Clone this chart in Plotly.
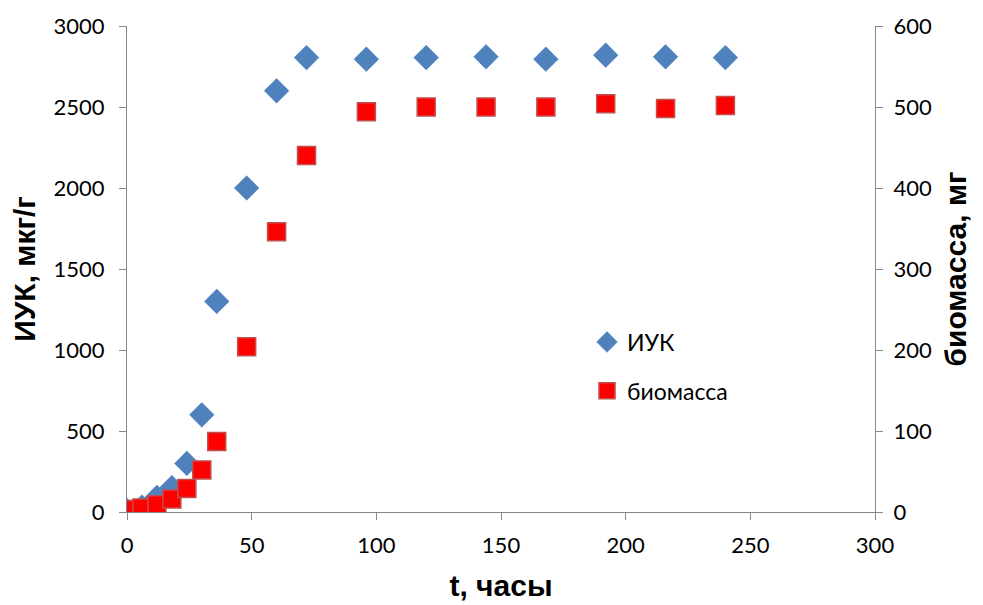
import plotly.graph_objects as go

t_iuk = [0, 6, 12, 18, 24, 30, 36, 48, 60, 72, 96, 120, 144, 168, 192, 216, 240]
iuk = [10, 30, 90, 150, 300, 600, 1300, 2000, 2600, 2805, 2795, 2805, 2810, 2795, 2820, 2810, 2805]

t_bio = [0, 6, 12, 18, 24, 30, 36, 48, 60, 72, 96, 120, 144, 168, 192, 216, 240]
bio = [3, 5, 9, 16, 29, 52, 87, 204, 346, 440, 494, 500, 500, 500, 504, 498, 502]

x_ticks = [0, 50, 100, 150, 200, 250, 300]
y1_ticks = [0, 500, 1000, 1500, 2000, 2500, 3000]
y2_ticks = [0, 100, 200, 300, 400, 500, 600]

fig = go.Figure()
fig.add_trace(go.Scatter(
    x=t_iuk, y=iuk, mode="markers", name="ИУК", legendgroup="a",
    marker=dict(symbol="diamond", size=19, color="#4F81BD",
                line=dict(color="#4A7EBB", width=0.5)),
    yaxis="y"))
fig.add_trace(go.Scatter(
    x=t_bio, y=bio, mode="markers", name="биомасса", legendgroup="b",
    marker=dict(symbol="square", size=18, color="#FF0000",
                line=dict(color="#C0504D", width=1.5)),
    yaxis="y2"))

tickfont = dict(family="Lato, Open Sans, sans-serif", size=22, color="#000000")
titlefont = dict(family="Liberation Sans, Arial, sans-serif", size=30, color="#000000", weight="bold")

fig.update_layout(
    width=983, height=605,
    margin=dict(l=119, r=116, t=18, b=101),
    paper_bgcolor="white", plot_bgcolor="white",
    showlegend=True,
    legend=dict(x=0.615, y=0.394, xanchor="left", yanchor="top",
                bgcolor="rgba(0,0,0,0)", tracegroupgap=16,
                font=dict(family="Lato, Open Sans, sans-serif", size=23, color="#000000")),
    xaxis=dict(range=[0, 300], tickvals=x_ticks, showgrid=False, zeroline=False,
               showline=True, linecolor="#888888", linewidth=1.3, automargin=False,
               ticks="outside", ticklen=7, tickcolor="#888888", ticklabelstandoff=6,
               tickfont=tickfont,
               title=dict(text="t, часы", font=titlefont, standoff=18)),
    yaxis=dict(range=[0, 3000], tickvals=y1_ticks, showgrid=False, zeroline=False,
               showline=True, linecolor="#888888", linewidth=1.3, automargin=False,
               ticks="outside", ticklen=7, tickcolor="#888888", ticklabelstandoff=10,
               tickfont=tickfont,
               title=dict(text="ИУК, мкг/г", font=titlefont, standoff=14)),
    yaxis2=dict(range=[0, 600], tickvals=y2_ticks, overlaying="y", side="right",
                showgrid=False, zeroline=False, automargin=False,
                showline=True, linecolor="#888888", linewidth=1.3,
                ticks="outside", ticklen=7, tickcolor="#888888", ticklabelstandoff=6,
                tickfont=tickfont,
                title=dict(text="биомасса, мг", font=titlefont, standoff=13)),
)

fig.write_html("out.html")
